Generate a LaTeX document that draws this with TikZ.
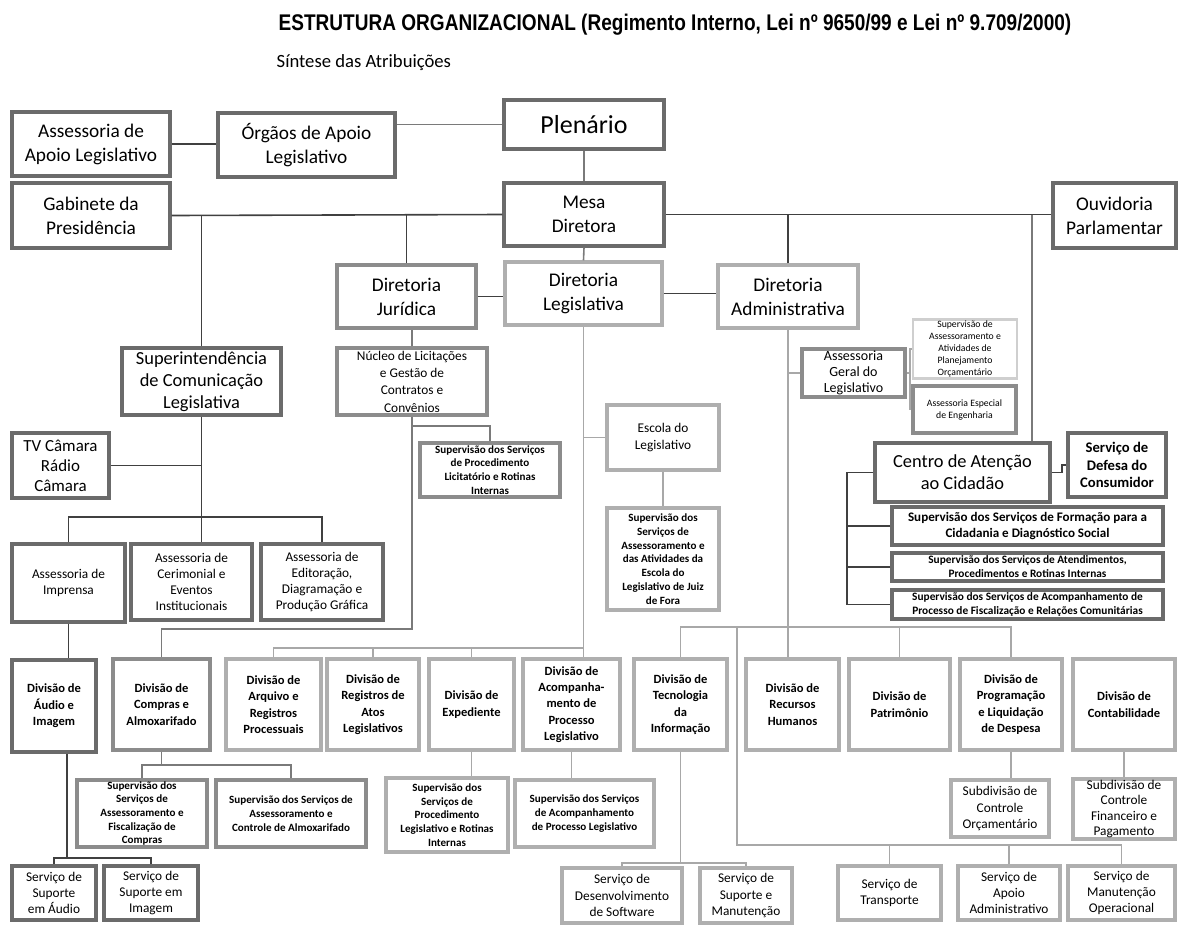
\documentclass[tikz,border=0pt]{standalone}
\usepackage{fontspec}
\setmainfont{Carlito}
\newfontfamily\titlefont[FakeStretch=0.84]{Liberation Sans}
\usepackage{tikz}
\usetikzlibrary{positioning}
\definecolor{bdark}{HTML}{6B6B6B}
\definecolor{bmid}{HTML}{8C8C8C}
\definecolor{blight}{HTML}{AFAFAF}
\definecolor{bpale}{HTML}{CFCFCF}
\definecolor{ldark}{HTML}{404040}
\definecolor{lmid}{HTML}{7A7A7A}
\definecolor{llight}{HTML}{A8A8A8}
\tikzset{
  box/.style={draw, rectangle, align=center, inner sep=1pt, fill=white, line width=2.6pt},
  dbox/.style={box, draw=bdark},
  mbox/.style={box, draw=bmid},
  lbox/.style={box, draw=blight},
  pbox/.style={box, draw=bpale, line width=2pt},
  wh/.style 2 args={minimum width=#1*0.75pt, minimum height=#2*0.75pt},
  fbig/.style={font=\fontsize{19.5}{23}\selectfont},
  fmain/.style={font=\fontsize{14.5}{18}\selectfont},
  fsupt/.style={font=\fontsize{13.8}{16.5}\selectfont},
  fcac/.style={font=\fontsize{13.8}{16.5}\selectfont},
  ftv/.style={font=\fontsize{12.7}{15}\selectfont},
  fnuc/.style={font=\fontsize{10}{13}\selectfont},
  freg/.style={font=\fontsize{10}{12.2}\selectfont},
  fdiv/.style={font=\bfseries\fontsize{9.4}{12.3}\selectfont},
  fsup/.style={font=\bfseries\fontsize{8.3}{10.3}\selectfont},
  ftiny/.style={font=\fontsize{7.3}{9}\selectfont},
  fdef/.style={font=\bfseries\fontsize{11}{13.3}\selectfont},
  fform/.style={font=\bfseries\fontsize{9.8}{12}\selectfont},
  fatd/.style={font=\bfseries\fontsize{8.5}{10.5}\selectfont},
  dln/.style={draw=ldark, line width=1.2pt},
  mln/.style={draw=lmid, line width=1.2pt},
  lln/.style={draw=llight, line width=1.4pt}
}

\begin{document}
\begin{tikzpicture}[x=0.75pt, y=-0.75pt]
\useasboundingbox (0,0) rectangle (1188,939);

\node[anchor=west, font=\titlefont\bfseries\fontsize{17}{20}\selectfont] (title) at (274,25)
  {ESTRUTURA ORGANIZACIONAL (Regimento Interno, Lei nº 9650/99 e Lei nº 9.709/2000)};
\node[anchor=west, font=\fontsize{14}{16}\selectfont] (subt) at (272,63) {Síntese das Atribuições};

\node[dbox, fmain, wh={158}{64}] (aal) at (91,144) {Assessoria de\\Apoio Legislativo};
\node[dbox, fmain, wh={177}{64}] (org) at (306.5,145) {Órgãos de Apoio\\Legislativo};
\node[dbox, fbig, wh={160}{49}] (plen) at (584,124.5) {Plenário};
\node[dbox, fmain, wh={158}{65}] (gab) at (91,215.5) {Gabinete da\\Presidência};
\node[dbox, fmain, wh={160}{63}] (mesa) at (584,214.5) {Mesa\\Diretora};
\node[dbox, fmain, wh={123}{65}] (ouv) at (1114.5,215.5) {Ouvidoria\\Parlamentar};

\node[mbox, fmain, wh={139}{63}] (jur) at (406.5,296.5) {Diretoria\\Jurídica};
\node[lbox, fmain, wh={157}{63}] (leg) at (583.5,293.5) {Diretoria\\Legislativa};
\node[lbox, fmain, wh={140}{63}] (adm) at (788,296.5) {Diretoria\\Administrativa};

\node[dbox, fsupt, wh={159}{67}] (sup) at (201.5,381.5) {Superintendência\\de Comunicação\\Legislativa};
\node[mbox, fnuc, wh={150}{67}] (nuc) at (412,381.5) {Núcleo de Licitações\\e Gestão de\\Contratos e\\Convênios};
\node[dbox, ftv, wh={97}{65}] (tv) at (60.5,465.5) {TV Câmara\\Rádio\\Câmara};
\node[mbox, fsup, wh={140}{54}] (slic) at (490,470) {Supervisão dos Serviços\\de Procedimento\\Licitatório e Rotinas\\Internas};
\node[lbox, freg, wh={112}{65}] (esc) at (663,437.5) {Escola do\\Legislativo};
\node[lbox, fsup, wh={112}{102}] (sesc) at (663,559) {Supervisão dos\\Serviços de\\Assessoramento e\\das Atividades da\\Escola do\\Legislativo de Juiz\\de Fora};

\node[mbox, font=\fontsize{10.5}{12}\selectfont, wh={103}{48}] (ageral) at (853.5,373) {Assessoria\\Geral do\\Legislativo};
\node[pbox, ftiny, wh={104}{56}] (splan) at (965,349) {Supervisão de\\Assessoramento e\\Atividades de\\Planejamento\\Orçamentário};
\node[mbox, ftiny, wh={103}{47}] (seng) at (964.5,409.5) {Assessoria Especial\\de Engenharia};
\node[dbox, fcac, wh={175}{59}] (cac) at (962.5,472.5) {Centro de Atenção\\ao Cidadão};
\node[dbox, fdef, wh={98}{64}] (def) at (1117,465) {Serviço de\\Defesa do\\Consumidor};
\node[dbox, fform, wh={271}{38}] (sform) at (1027.5,526) {Supervisão dos Serviços de Formação para a\\Cidadania e Diagnóstico Social};
\node[dbox, fatd, wh={271}{28}] (satend) at (1027.5,567) {Supervisão dos Serviços de Atendimentos,\\Procedimentos e Rotinas Internas};
\node[dbox, fatd, wh={271}{29}] (sacomp) at (1027.5,604.5) {Supervisão dos Serviços de Acompanhamento de\\Processo de Fiscalização e Relações Comunitárias};

\node[dbox, freg, wh={113}{78}] (impr) at (68.5,583) {Assessoria de\\Imprensa};
\node[dbox, freg, wh={121}{76}] (ceri) at (191.5,582) {Assessoria de\\Cerimonial e\\Eventos\\Institucionais};
\node[dbox, freg, wh={122}{76}] (edit) at (322,582) {Assessoria de\\Editoração,\\Diagramação e\\Produção Gráfica};

\node[dbox, fdiv, wh={84}{92}] (audio) at (54,706) {Divisão de\\Áudio e\\Imagem};
\node[mbox, fdiv, wh={97}{91}] (comp) at (161.5,704.5) {Divisão de\\Compras e\\Almoxarifado};
\node[lbox, fdiv, wh={95}{91}] (arq) at (273.5,704.5) {Divisão de\\Arquivo e\\Registros\\Processuais};
\node[lbox, fdiv, wh={92}{91}] (reg) at (373,704.5) {Divisão de\\Registros de\\Atos\\Legislativos};
\node[lbox, fdiv, wh={85}{91}] (exp) at (471.5,704.5) {Divisão de\\Expediente};
\node[lbox, fdiv, wh={97}{91}] (acp) at (571.5,704.5) {Divisão de\\Acompanha-\\mento de\\Processo\\Legislativo};
\node[lbox, fdiv, wh={93}{91}] (tec) at (680.5,704.5) {Divisão de\\Tecnologia\\da\\Informação};
\node[lbox, fdiv, wh={93}{91}] (rh) at (792.5,704.5) {Divisão de\\Recursos\\Humanos};
\node[lbox, fdiv, wh={101}{91}] (pat) at (899.5,704.5) {Divisão de\\Patrimônio};
\node[lbox, fdiv, wh={102}{91}] (prog) at (1011,704.5) {Divisão de\\Programação\\e Liquidação\\de Despesa};
\node[lbox, fdiv, wh={102}{91}] (cont) at (1124,704.5) {Divisão de\\Contabilidade};

\node[mbox, fsup, wh={130}{67}] (scomp) at (142,813.5) {Supervisão dos\\Serviços de\\Assessoramento e\\Fiscalização de\\Compras};
\node[mbox, fsup, wh={150}{67}] (salm) at (291,813.5) {Supervisão dos Serviços de\\Assessoramento e\\Controle de Almoxarifado};
\node[lbox, fsup, wh={122}{74}] (sproc) at (447,815) {Supervisão dos\\Serviços de\\Procedimento\\Legislativo e Rotinas\\Internas};
\node[lbox, fsup, wh={139}{67}] (sacp) at (584.5,813.5) {Supervisão dos Serviços\\de Acompanhamento\\de Processo Legislativo};
\node[lbox, freg, wh={98}{57}] (sorc) at (1000,808.5) {Subdivisão de\\Controle\\Orçamentário};
\node[lbox, font=\fontsize{10}{11.4}\selectfont, wh={102}{58}] (sfin) at (1124,809) {Subdivisão de\\Controle\\Financeiro e\\Pagamento};

\node[dbox, freg, wh={84}{54}] (saud) at (54,893) {Serviço de\\Suporte\\em Áudio};
\node[dbox, freg, wh={94}{54}] (simg) at (151,893) {Serviço de\\Suporte em\\Imagem};
\node[lbox, freg, wh={120}{55}] (sdev) at (622,895.5) {Serviço de\\Desenvolvimento\\de Software};
\node[lbox, freg, wh={92}{55}] (ssup) at (746,895.5) {Serviço de\\Suporte e\\Manutenção};
\node[lbox, freg, wh={103}{54}] (stra) at (889.5,893) {Serviço de\\Transporte};
\node[lbox, freg, wh={102}{54}] (sapo) at (1009,893) {Serviço de\\Apoio\\Administrativo};
\node[lbox, freg, wh={107}{54}] (sman) at (1121.5,893) {Serviço de\\Manutenção\\Operacional};

\coordinate (ovj) at (1032,214.5);
\coordinate (supbus) at (201.5,517);
\coordinate (audbus) at (67,858);
\coordinate (compbus) at (161.5,765);
\coordinate (nucbus) at (412,629);
\coordinate (legbus) at (583.5,648);
\coordinate (agj) at (910,373);
\coordinate (admbus) at (788,627);
\coordinate (srvj) at (737,627);
\coordinate (srvbus) at (737,845);
\coordinate (tecbus) at (680.5,863);
\coordinate (cacj) at (847,472.5);

\draw[dln] (aal.east) -- (aal.east -| org.west);
\draw[mln] (plen.west) -- (plen.west -| org.east);
\draw[mln] (plen.south) -- (mesa.north);
\draw[dln] (gab.east) -- (mesa.west);
\draw[dln] (mesa.east) -- (mesa.east -| ouv.west);
\draw[mln] (mesa.south) -- (leg.north);
\draw[dln] (sup.north) -- (sup.north |- mesa.west);
\draw[dln] (jur.north) -- (jur.north |- mesa.west);
\draw[dln] (adm.north) -- (adm.north |- mesa.east);
\draw[mln] (ovj) -- (ovj |- cac.north);
\draw[dln] (jur.east) -- (jur.east -| leg.west);
\draw[dln] (leg.east) -- (leg.east -| adm.west);

\draw[dln] (sup.south) -- (sup.south |- ceri.north);
\draw[dln] (tv.east) -- (tv.east -| sup.south);
\draw[dln] (impr.north) |- (supbus) -| (edit.north);
\draw[dln] (impr.south) -- (impr.south |- audio.north);
\draw[dln] (audbus |- audio.south) -- (audbus);
\draw[dln] (saud.north) |- (audbus) -| (simg.north);

\draw[mln] (nuc.north) -- (nuc.north |- jur.south);
\draw[mln] (nuc.south) -- (nucbus) -| (comp.north);
\draw[mln] (slic.north) -- ++(0,-15) -| (nuc.south);
\draw[mln] (comp.south) -- (compbus);
\draw[mln] (scomp.north) |- (compbus) -| (salm.north);

\draw[lln] (leg.south) -- (leg.south |- acp.north);
\draw[lln] (esc.west) -- (esc.west -| leg.south);
\draw[lln] (esc.south) -- (sesc.north);
\draw[lln] (arq.north) |- (legbus);
\draw[lln] (reg.north) -- (reg.north |- legbus);
\draw[lln] (exp.north) -- (exp.north |- legbus);
\draw[lln] (exp.south) -- (exp.south |- sproc.north);
\draw[lln] (acp.south) -- (acp.south |- sacp.north);

\draw[lln] (adm.south) -- (adm.south |- rh.north);
\draw[lln] (ageral.west) -- (ageral.west -| adm.south);
\draw[lln] (ageral.east) -- (agj);
\draw[lln] (splan.west) -| (agj) |- (seng.west);
\draw[lln] (tec.north) |- (admbus) -| (prog.north);
\draw[lln] (pat.north) -- (pat.north |- admbus);
\draw[lln] (srvj) -- (srvbus) -| (sman.north);
\draw[lln] (stra.north) -- (stra.north |- srvbus);
\draw[lln] (sapo.north) -- (sapo.north |- srvbus);
\draw[lln] (tec.south) -- (tecbus);
\draw[lln] (sdev.north) |- (tecbus) -| (ssup.north);
\draw[lln] (prog.south) -- (prog.south |- sorc.north);
\draw[lln] (cont.south) -- (sfin.north);

\draw[dln] (cac.east) -- ++(10,0) |- (def.west);
\draw[dln] (cac.west) -- (cacj) |- (sacomp.west);
\draw[dln] (sform.west) -- (sform.west -| cacj);
\draw[dln] (satend.west) -- (satend.west -| cacj);
\end{tikzpicture}
\end{document}
